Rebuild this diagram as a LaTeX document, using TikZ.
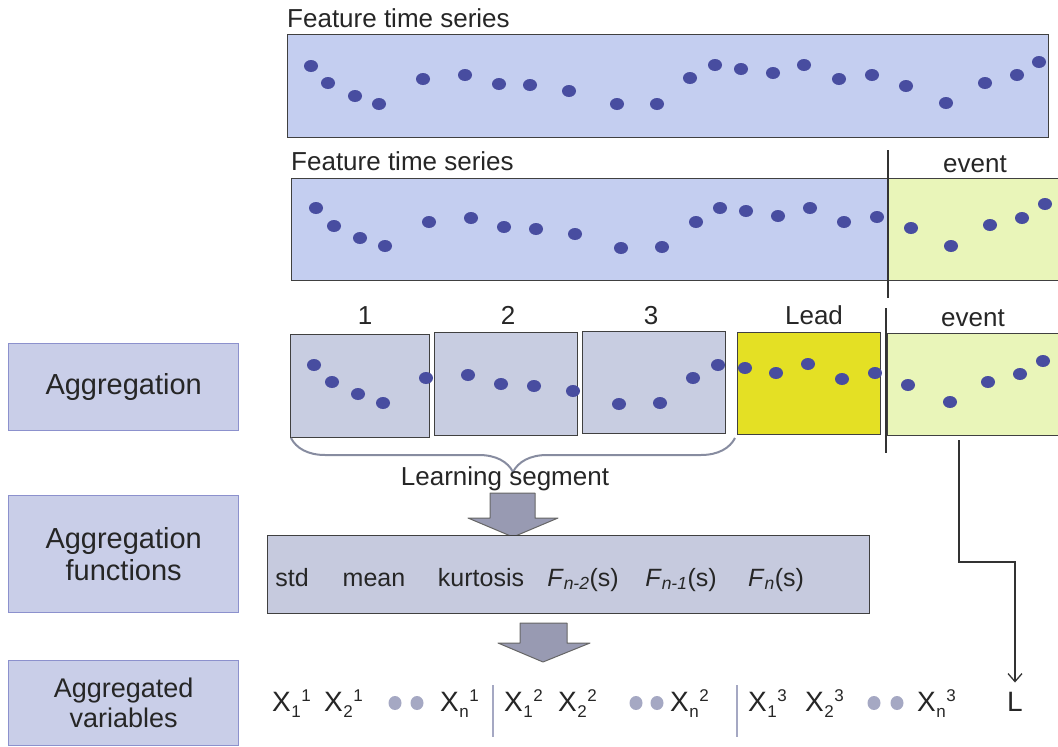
\documentclass[tikz,border=0pt]{standalone}
\usepackage{fontspec}
\setmainfont{Liberation Sans}
\usetikzlibrary{positioning,decorations.pathreplacing,arrows.meta}

\definecolor{serieblu}{RGB}{196,206,240}
\definecolor{eventoverde}{RGB}{233,245,185}
\definecolor{segmgrigio}{RGB}{200,205,225}
\definecolor{leadgiallo}{RGB}{228,224,36}
\definecolor{funzgrigio}{RGB}{198,202,222}
\definecolor{passofill}{RGB}{201,206,232}
\definecolor{passobordo}{RGB}{140,145,205}
\definecolor{puntoblu}{RGB}{72,77,160}
\definecolor{puntogrigio}{RGB}{165,168,195}
\definecolor{frecciafill}{RGB}{152,154,178}
\definecolor{bracegrigio}{RGB}{135,140,160}

\newcommand{\xvar}[2]{X\kern0.5pt\raisebox{-6pt}{\fontsize{17}{17}\selectfont #1}%
	\kern0.5pt\raisebox{10pt}{\fontsize{17}{17}\selectfont #2}}
\newcommand{\fagg}[1]{\textit{F}\textsubscript{\textit{#1}}(s)}

\begin{document}
\begin{tikzpicture}[x=1pt,y=-1pt,
			bordo/.style={draw=black!75, line width=1.4pt, inner sep=0pt, anchor=north west},
			serie/.style={bordo, fill=serieblu},
			evento/.style={bordo, fill=eventoverde},
			segm/.style={bordo, fill=segmgrigio},
			lead/.style={bordo, fill=leadgiallo},
			funz/.style={bordo, fill=funzgrigio},
			passo/.style={draw=passobordo, fill=passofill, line width=1.4pt, anchor=north west,
				align=center, text=black!85, font=\fontsize{29}{32}\selectfont},
			titolo/.style={inner sep=0pt, text=black!85, font=\fontsize{26}{30}\selectfont},
			etich/.style={inner sep=0pt, text=black!85, font=\fontsize{25}{30}\selectfont},
			varagg/.style={inner sep=0pt, anchor=base west, text=black!85, font=\fontsize{28}{32}\selectfont},
			punto/.style={fill=puntoblu},
			puntino/.style={fill=puntogrigio},
			divisore/.style={line width=1.3pt, black!80},
			graffa/.style={decorate, decoration={brace, mirror, amplitude=34pt},
				line width=2pt, bracegrigio},
			freccia/.style={fill=frecciafill, draw=black!60, line width=1pt, line join=round},
			freccina/.style={line width=1.3pt, black!80, -{Straight Barb[length=8pt,width=14pt]}},
			]
			\useasboundingbox (0,0) rectangle (1058,747);
			
			%% ── serie completa ────────────────────────────────
			\node[titolo, anchor=base west] (tit1) at (287,27) {Feature time series};
			\node[serie, minimum width=761, minimum height=103] (ts1) at (287,34) {};
			\foreach \px/\py in {311/66,328/83,355/96,379/104,423/79,465/75,499/84,530/85,
				569/91,617/104,657/104,690/78,715/65,741/69,773/73,804/65,839/79,872/75,
				906/86,946/103,985/83,1017/75,1039/62}
			\fill[punto](\px,\py)ellipse(7 and 6);
			
			%% ── serie con evento ──────────────────────────────
			\node[titolo, anchor=base west] (tit2) at (291,170) {Feature time series};
			\node[serie, minimum width=597, minimum height=102] (ts2) at (291,178) {};
			\node[evento, minimum width=176, minimum height=102] (ev2) at (888,178) {};
			\node[titolo, anchor=base] (et2) at (975,172) {event};
			\draw[divisore](ev2.north west)++(0,-28)--(ev2.south west)--++(0,17);
			\foreach \px/\py in {316/208,334/226,360/238,385/246,429/222,471/218,504/227,
				536/229,575/234,621/248,662/247,696/222,720/208,746/211,778/216,810/208,
				844/222,877/217,911/228,951/246,990/225,1022/218,1045/204}
			\fill[punto](\px,\py)ellipse(7 and 6);
			
			%% ── segmenti ──────────────────────────────────────
			\node[passo, minimum width=230, minimum height=87] (agg) at (8,343) {Aggregation};
			\node[segm, minimum width=139, minimum height=103] (seg1) at (290,334) {};
			\node[segm, minimum width=143, minimum height=103] (seg2) at (434,332) {};
			\node[segm, minimum width=143, minimum height=102] (seg3) at (582,331) {};
			\node[lead, minimum width=143, minimum height=102] (ld) at (737,332) {};
			\node[evento, minimum width=175, minimum height=102] (ev3) at (887,333) {};
			\node[titolo, anchor=base] (n1) at (365,324) {1};
			\node[titolo, anchor=base] (n2) at (508,324) {2};
			\node[titolo, anchor=base] (n3) at (651,324) {3};
			\node[titolo, anchor=base] (nl) at (814,324) {Lead};
			\node[titolo, anchor=base] (et3) at (973,326) {event};
			\draw[divisore](ev3.north west)++(-1,-25)--++(0,145);
			\foreach \px/\py in {314/365,332/382,358/394,383/403,426/378,468/375,501/384,
				534/386,573/391,619/404,660/403,693/378,718/365,745/368,776/373,808/364,
				842/379,875/373,908/385,950/402,988/382,1020/374,1043/361}
			\fill[punto](\px,\py)ellipse(7 and 6);
			\coordinate (gA) at (291,438);
			\coordinate (gB) at (735,438);
			\draw[graffa](gA)--(gB);
			\node[titolo, anchor=base] (learn) at (505,485) {Learning segment};
			
			%% ── funzioni di aggregazione ─────────────────────
			\draw[freccia](490,493)--(535,493)--(535,518)--(558,518)--(513,537)
				--(468,518)--(490,518)--cycle;
			\node[passo, minimum width=230, minimum height=117] (fagg) at (8,495)
				{Aggregation\\functions};
			\node[funz, minimum width=602, minimum height=78] (fun) at (267,535) {};
			\node[etich, anchor=base] (f1) at (292,586) {std};
			\node[etich, anchor=base] (f2) at (374,586) {mean};
			\node[etich, anchor=base] (f3) at (481,586) {kurtosis};
			\node[etich, anchor=base] (f4) at (583,586) {\fagg{n-2}};
			\node[etich, anchor=base] (f5) at (681,586) {\fagg{n-1}};
			\node[etich, anchor=base] (f6) at (776,586) {\fagg{n}};
			
			%% ── variabili aggregate ──────────────────────────
			\draw[freccia](520,623)--(567,623)--(567,643)--(590,643)--(543,662)
				--(498,643)--(520,643)--cycle;
			\node[passo, minimum width=230, minimum height=85,
				font=\fontsize{27}{30}\selectfont] (vagg) at (8,660) {Aggregated\\variables};
			\node[varagg] (x11) at (272,711) {\xvar{1}{1}};
			\node[varagg] (x21) at (324,711) {\xvar{2}{1}};
			\node[varagg] (xn1) at (440,711) {\xvar{n}{1}};
			\node[varagg] (x12) at (504,711) {\xvar{1}{2}};
			\node[varagg] (x22) at (558,711) {\xvar{2}{2}};
			\node[varagg] (xn2) at (670,711) {\xvar{n}{2}};
			\node[varagg] (x13) at (748,711) {\xvar{1}{3}};
			\node[varagg] (x23) at (805,711) {\xvar{2}{3}};
			\node[varagg] (xn3) at (917,711) {\xvar{n}{3}};
			\node[varagg, anchor=base] (lab) at (1015,711) {L};
			\foreach \px in {395,417,636,657,874,897}
			\fill[puntino](\px,703)ellipse(6.5 and 7);
			\draw[line width=2pt, puntogrigio](493,685)--(493,737);
			\draw[line width=2pt, puntogrigio](737,685)--(737,737);
			\coordinate (lpart) at (959,440);
			\draw[freccina](lpart)--++(0,122)-|([yshift=9pt]lab.north);
			
	\end{tikzpicture}
\end{document}
